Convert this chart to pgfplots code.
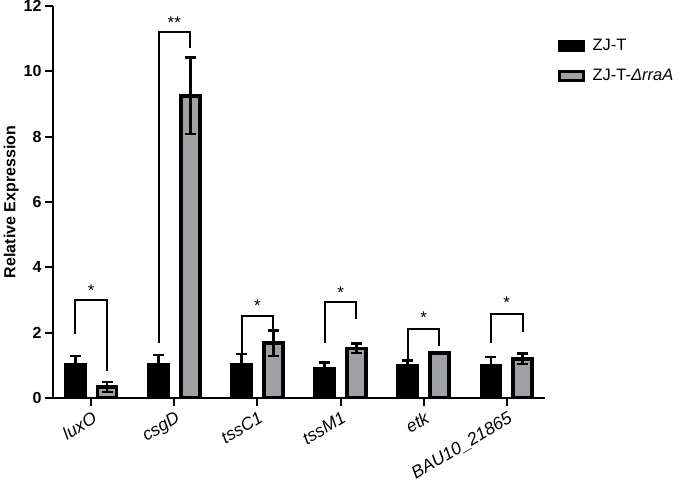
\documentclass[border=0pt]{standalone}
\usepackage{pgfplots}
\pgfplotsset{compat=1.18}
\usepackage{pgfplotstable}
\usepackage{fontspec}
\setmainfont{Liberation Sans}
\definecolor{barGray}{HTML}{A0A1A5}
\pgfplotstableread{
x y err
-0.192 1.02 0.27
0.808 1.01 0.30
1.808 1.01 0.33
2.808 0.90 0.18
3.808 1.00 0.15
4.808 1.00 0.25
}\zjt
\pgfplotstableread{
x y err
0.192 0.34 0.15
1.192 9.25 1.17
2.192 1.68 0.39
3.192 1.52 0.15
4.192 1.37 0.02
5.192 1.20 0.16
}\zjtrra
\pgfplotstableread{
x y lab
0 3.30 *
1 11.50 **
2 2.82 *
3 3.22 *
4 2.46 *
5 2.92 *
}\stars
\begin{document}
\begin{tikzpicture}
\begin{axis}[
  scale only axis, width=492pt, height=392pt,
  xmin=-0.46, xmax=5.46, ymin=0, ymax=12,
  axis x line*=bottom, axis y line*=left,
  axis line style={line width=2.2pt, black},
  xtick={0,...,5},
  xticklabels={luxO,csgD,tssC1,tssM1,etk,BAU10\_21865},
  xticklabel style={font=\fontsize{17.5}{19}\selectfont\itshape, rotate=31, anchor=north east, inner sep=1pt, yshift=-3pt, xshift=-1pt},
  ytick={0,2,...,12},
  yticklabel style={font=\fontsize{16}{18}\selectfont\bfseries},
  /pgf/number format/assume math mode=true,
  tick style={line width=2pt, black},
  major tick length=8pt,
  tick align=outside,
  ylabel={Relative Expression},
  ylabel style={font=\fontsize{16}{18}\selectfont\bfseries, yshift=-2pt},
  legend style={at={(1.02,0.925)}, anchor=north west, draw=none, fill=none,
    font=\fontsize{16.5}{18}\selectfont, row sep=13pt},
  legend cell align=left,
  legend image code/.code={\draw[#1, line width=3pt, fill=#1] (0pt,-4.5pt) rectangle (24pt,4.5pt); \path[draw=none, fill=none] (0pt,0pt) -- (31pt,0pt);},
  error bars/error bar style={line width=2.5pt, black},
  error bars/error mark options={rotate=90, mark size=5.5pt, line width=2.5pt, black},
]
\addplot[ybar, bar width=19pt, bar shift=0pt, fill=black, draw=black, line width=3.5pt,
  error bars/.cd, y dir=both, y explicit]
  table[x=x, y=y, y error=err] {\zjt};
\addlegendentry{ZJ-T}
\addplot[ybar, bar width=19pt, bar shift=0pt, fill=barGray, draw=black, line width=3.5pt,
  error bars/.cd, y dir=both, y explicit]
  table[x=x, y=y, y error=err] {\zjtrra};
\addlegendentry{ZJ-T-\textit{ΔrraA}}
% significance brackets
\addplot[black, line width=2pt, forget plot] coordinates {(-0.19,1.95) (-0.19,3.0) (0.19,3.0) (0.19,0.83)};
\addplot[black, line width=2pt, forget plot] coordinates {(0.81,1.69) (0.81,11.21) (1.19,11.21) (1.19,10.72)};
\addplot[black, line width=2pt, forget plot] coordinates {(1.81,1.34) (1.81,2.51) (2.19,2.51) (2.19,2.07)};
\addplot[black, line width=2pt, forget plot] coordinates {(2.81,1.69) (2.81,2.95) (3.19,2.95) (3.19,2.41)};
\addplot[black, line width=2pt, forget plot] coordinates {(3.81,1.18) (3.81,2.12) (4.19,2.12) (4.19,1.59)};
\addplot[black, line width=2pt, forget plot] coordinates {(4.81,1.69) (4.81,2.58) (5.19,2.58) (5.19,2.02)};
\addplot[only marks, mark=none, forget plot, nodes near coords, point meta=explicit symbolic,
  nodes near coords style={anchor=center, font=\fontsize{17}{17}\selectfont}]
  table[x=x, y=y, meta=lab] {\stars};
\end{axis}
\pgfresetboundingbox
\path[use as bounding box] (-53pt,-91pt) rectangle (631pt,398pt);
\end{tikzpicture}
\end{document}
